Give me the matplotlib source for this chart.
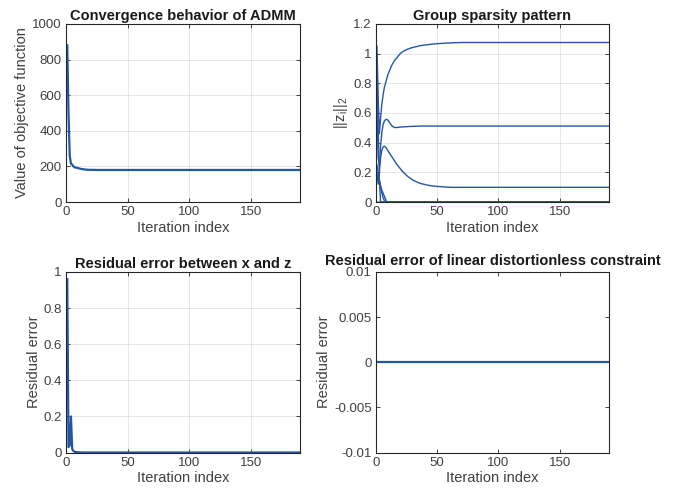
import numpy as np
import matplotlib
matplotlib.use("Agg")
import matplotlib.pyplot as plt

plt.rcParams['font.family'] = ['Liberation Sans', 'DejaVu Sans']

N = 190
it = np.arange(1, N + 1)

# objective function
obj_head = [880, 500, 260, 215, 210, 200, 195, 193, 192, 190, 188, 186, 185, 184,
            183, 182, 182, 181, 181, 181, 180.5, 180.5, 180.5, 180, 180]
obj = obj_head + [180.0] * (N - len(obj_head))

# group norms ||z_i||_2
gA_head = [1.05, 0.70, 0.46, 0.57, 0.66, 0.72, 0.77, 0.80, 0.83, 0.86, 0.88, 0.90,
           0.92, 0.935, 0.95, 0.96, 0.97, 0.98, 0.99, 1.00, 1.007, 1.013, 1.018,
           1.022, 1.026, 1.03, 1.033, 1.036, 1.039, 1.041, 1.043, 1.045, 1.047,
           1.049, 1.051, 1.053, 1.055, 1.056, 1.057, 1.058, 1.059, 1.06, 1.061,
           1.062, 1.063, 1.064, 1.065, 1.066, 1.066, 1.067, 1.068, 1.068, 1.069,
           1.069, 1.07, 1.07, 1.071, 1.071, 1.072, 1.072, 1.072, 1.073, 1.073,
           1.073, 1.074, 1.074, 1.074, 1.074, 1.075, 1.075]
gA = gA_head + [1.075] * (N - len(gA_head))

gB_head = [0.62, 0.30, 0.25, 0.38, 0.47, 0.52, 0.545, 0.555, 0.557, 0.552, 0.54,
           0.527, 0.515, 0.508, 0.504, 0.502, 0.502, 0.503, 0.504, 0.505, 0.506,
           0.506, 0.507, 0.507, 0.508, 0.508, 0.509, 0.509, 0.51, 0.51, 0.51,
           0.511, 0.511, 0.511, 0.511, 0.512]
gB = gB_head + [0.512] * (N - len(gB_head))

gC_head = [0.20, 0.12, 0.20, 0.30, 0.35, 0.37, 0.376, 0.37, 0.36, 0.345, 0.333,
           0.32, 0.307, 0.293, 0.28, 0.268, 0.256, 0.245, 0.235, 0.225, 0.215,
           0.205, 0.197, 0.188, 0.18, 0.173, 0.167, 0.161, 0.155, 0.15, 0.145,
           0.141, 0.137, 0.133, 0.13, 0.127, 0.124, 0.122, 0.12, 0.118, 0.116,
           0.114, 0.113, 0.111, 0.11, 0.109, 0.108, 0.107, 0.106, 0.105, 0.104,
           0.104, 0.103, 0.103, 0.102, 0.102, 0.101, 0.101, 0.1, 0.1]
gC = gC_head + [0.099] * (N - len(gC_head))

gD_head = [0.95, 0.50, 0.15, 0.0]
gD = gD_head + [0.0] * (N - len(gD_head))

gE_head = [0.25, 0.20, 0.15, 0.10, 0.06, 0.03, 0.01, 0.0]
gE = gE_head + [0.0] * (N - len(gE_head))

gF_head = [0.18, 0.17, 0.14, 0.11, 0.08, 0.06, 0.04, 0.02, 0.0]
gF = gF_head + [0.0] * (N - len(gF_head))

gZero = [0.0] * N

groups = [gA, gB, gC, gD, gE, gF, gZero, gZero, gZero]

# residual x - z
res_head = [0.96, 0.03, 0.04, 0.20, 0.02, 0.008, 0.004, 0.002, 0.0015, 0.001]
res = res_head + [0.0] * (N - len(res_head))

# residual of linear distortionless constraint
res_lin = [0.0] * N

blue = '#2456a6'
axcol = '#262626'
txtcol = '#404040'

fig = plt.figure(figsize=(6.9, 4.96), dpi=100)

def style(ax, grid=True):
    for s in ax.spines.values():
        s.set_color(axcol)
        s.set_linewidth(0.8)
    ax.tick_params(direction='in', length=3, width=0.6, colors=axcol,
                   labelcolor=txtcol, labelsize=9.5, top=True, right=True,
                   pad=3)
    ax.set_xlim(0, N)
    ax.set_xticks([0, 50, 100, 150])
    if grid:
        ax.grid(True, color='#e3e3e3', linewidth=0.6)
    ax.set_axisbelow(True)
    ax.set_xlabel("Iteration index", fontsize=10.5, color=txtcol, labelpad=2)

# top-left
ax1 = fig.add_axes([0.0957, 0.5927, 0.339, 0.359])
ax1.plot(it, obj, color=blue, linewidth=1.6)
ax1.set_ylim(0, 1000)
ax1.set_yticks([0, 200, 400, 600, 800, 1000])
style(ax1)
ax1.set_ylabel("Value of objective function", fontsize=10.5, color=txtcol, labelpad=2)
ax1.set_title("Convergence behavior of ADMM", fontsize=10.5, fontweight='bold',
              color='#1a1a1a', pad=3)

# top-right
ax2 = fig.add_axes([0.5445, 0.5927, 0.338, 0.359])
for g in groups:
    ax2.plot(it, g, color=blue, linewidth=1.0)
ax2.set_ylim(0, 1.2)
ax2.set_yticks([0, 0.2, 0.4, 0.6, 0.8, 1, 1.2])
ax2.set_yticklabels(['0', '0.2', '0.4', '0.6', '0.8', '1', '1.2'])
style(ax2)
ax2.set_ylabel(r"$\mathregular{||z_i||_2}$", fontsize=10.5, color=txtcol, labelpad=2)
ax2.set_title("Group sparsity pattern", fontsize=10.5, fontweight='bold',
              color='#1a1a1a', pad=3)

# bottom-left
ax3 = fig.add_axes([0.0957, 0.0877, 0.339, 0.364])
ax3.plot(it, res, color=blue, linewidth=1.6)
ax3.set_ylim(0, 1)
ax3.set_yticks([0, 0.2, 0.4, 0.6, 0.8, 1])
ax3.set_yticklabels(['0', '0.2', '0.4', '0.6', '0.8', '1'])
style(ax3)
ax3.set_ylabel("Residual error", fontsize=10.5, color=txtcol, labelpad=2)
ax3.set_title("Residual error between x and z", fontsize=10.5, fontweight='bold',
              color='#1a1a1a', pad=3)

# bottom-right
ax4 = fig.add_axes([0.5445, 0.0877, 0.338, 0.364])
ax4.plot(it, res_lin, color=blue, linewidth=1.6)
ax4.set_ylim(-0.01, 0.01)
ax4.set_yticks([-0.01, -0.005, 0, 0.005, 0.01])
ax4.set_yticklabels(['-0.01', '-0.005', '0', '0.005', '0.01'])
style(ax4, grid=False)
ax4.set_ylabel("Residual error", fontsize=10.5, color=txtcol, labelpad=2)
ax4.set_title("Residual error of linear distortionless constraint", fontsize=10.5,
              fontweight='bold', color='#1a1a1a', pad=5)

fig.savefig("out.png", dpi=100)
